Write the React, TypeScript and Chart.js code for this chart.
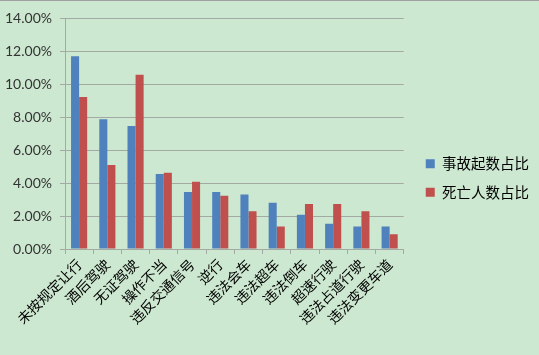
import React, { useEffect, useRef } from "react";
import { Chart, registerables } from "chart.js";

Chart.register(...registerables);

const categories = [
  "未按规定让行",
  "酒后驾驶",
  "无证驾驶",
  "操作不当",
  "违反交通信号",
  "逆行",
  "违法会车",
  "违法超车",
  "违法倒车",
  "超速行驶",
  "违法占道行驶",
  "违法变更车道",
];

const seriesNames = ["事故起数占比", "死亡人数占比"];

const accidentShare = [11.68, 7.86, 7.45, 4.55, 3.46, 3.46, 3.31, 2.8, 2.07, 1.53, 1.37, 1.37];
const deathShare = [9.21, 5.09, 10.56, 4.62, 4.08, 3.22, 2.29, 1.37, 2.73, 2.73, 2.29, 0.89];

const yTicks = [0, 2, 4, 6, 8, 10, 12, 14];

const CJK = '"Noto Sans CJK SC", sans-serif';

export default function App() {
  const ref = useRef<HTMLCanvasElement | null>(null);

  useEffect(() => {
    if (!ref.current) return;
    const gridColor = "#a3aaa3";
    const chart = new Chart(ref.current, {
      type: "bar",
      data: {
        labels: categories,
        datasets: [
          {
            label: seriesNames[0],
            data: accidentShare,
            backgroundColor: "#4f81bd",
            categoryPercentage: 0.571,
            barPercentage: 1.0,
          },
          {
            label: seriesNames[1],
            data: deathShare,
            backgroundColor: "#c0504d",
            categoryPercentage: 0.571,
            barPercentage: 1.0,
          },
        ],
      },
      options: {
        animation: false,
        responsive: false,
        maintainAspectRatio: false,
        layout: { padding: 0 },
        plugins: {
          tooltip: { enabled: false },
          legend: {
            position: "right",
            align: "center",
            maxWidth: 160,
            labels: {
              boxWidth: 9,
              boxHeight: 9,
              padding: 14,
              color: "#000",
              font: { family: CJK, size: 14.5 },
            },
          },
        },
        scales: {
          x: {
            grid: {
              offset: true,
              drawOnChartArea: false,
              drawTicks: true,
              tickLength: 5,
              color: gridColor,
            },
            border: { display: true, color: gridColor },
            ticks: {
              autoSkip: false,
              minRotation: 45,
              maxRotation: 45,
              color: "#000",
              padding: 2,
              font: { family: CJK, size: 14 },
            },
            afterFit: (s: any) => {
              s.height = 106;
            },
          },
          topSpacer: {
            type: "linear",
            axis: "x",
            position: "top",
            display: true,
            grid: { display: false, drawTicks: false },
            border: { display: false },
            ticks: { display: false },
            afterFit: (s: any) => {
              s.height = 17;
            },
          },
          y: {
            min: 0,
            max: 14,
            afterBuildTicks: (s: any) => {
              s.ticks = yTicks.map((v) => ({ value: v }));
            },
            grid: { color: gridColor, tickLength: 5, lineWidth: 1 },
            border: { display: true, color: gridColor },
            ticks: {
              color: "#333",
              padding: 8,
              font: { family: "Lato, sans-serif", size: 14 },
              callback: (v: any) => Number(v).toFixed(2) + "%",
            },
            afterFit: (s: any) => {
              s.width = 65;
            },
          },
          spacer: {
            type: "linear",
            axis: "y",
            position: "right",
            display: true,
            grid: { display: false, drawTicks: false },
            border: { display: false },
            ticks: { display: false },
            afterFit: (s: any) => {
              s.width = 8;
            },
          },
        },
      } as any,
    });
    return () => chart.destroy();
  }, []);

  return (
    <div
      style={{
        position: "fixed",
        left: 0,
        top: 0,
        width: 539,
        height: 355,
        background: "#cde8d0",
        borderTop: "1px solid #a0a0a0",
        boxSizing: "border-box",
      }}
    >
      <canvas ref={ref} width={539} height={354} style={{ display: "block" }} />
    </div>
  );
}
